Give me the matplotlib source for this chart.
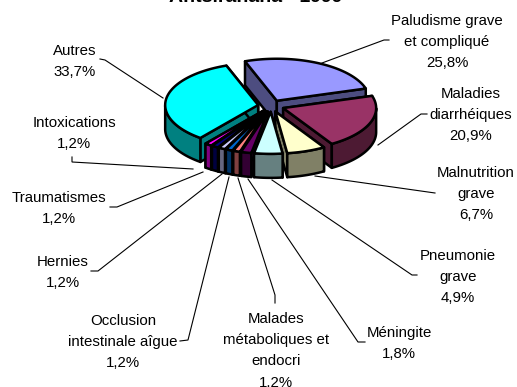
import numpy as np
import matplotlib
matplotlib.use("Agg")
import matplotlib.pyplot as plt
from matplotlib.patches import Polygon

# valeurs, dans le sens horaire
categories = ["Paludisme grave\net compliqué", "Maladies\ndiarrhéiques", "Malnutrition\ngrave",
              "Pneumonie\ngrave", "Méningite", "Malades\nmétaboliques et\nendocri",
              "Occlusion\nintestinale aîgue", "Hernies", "Traumatismes", "Intoxications", "Autres"]
values = [25.8, 20.9, 6.7, 4.9, 1.8, 1.2, 1.2, 1.2, 1.2, 1.2, 33.7]
top_colors = ["#9999FF", "#993366", "#FFFFCC", "#CCFFFF", "#660066", "#FF8080",
              "#0066CC", "#CCCCFF", "#000080", "#FF00FF", "#00FFFF"]
side_colors = ["#4D4D80", "#4D1A33", "#808066", "#668080", "#330033", "#804040",
               "#003366", "#666680", "#000040", "#800080", "#008080"]

# position du texte (centre x, centre y de la 1re ligne) et trait de rappel
label_pos = [(447, 21), (471, 94), (476, 173), (458, 256), (399, 333), (276, 319),
             (123, 321), (63, 262), (59, 198), (74, 123), (75, 51)]
leaders = [
    [(322, 63), (384, 40), (389, 40)],
    [(378, 145), (421, 114), (427, 114)],
    [(315, 176), (435, 193)],
    [(272, 180), (412, 275), (417, 275)],
    [(248, 179), (358, 342), (365, 342)],
    [(238, 178), (275, 295), (275, 303)],
    [(229, 177), (188, 340), (180, 341)],
    [(222, 174), (98, 271), (91, 271)],
    [(203, 172), (117, 207), (110, 207)],
    [(193, 169), (72, 162), (72, 157)],
    [(163, 98), (105, 60), (100, 59)],
]

# géométrie du camembert, en pixels
cx, cy = 271, 106
rx, ry = 93, 42
depth = 24
explode = 13
first_angle = -20
line_height = 21.2

plt.rcParams['font.family'] = ['Liberation Sans', 'DejaVu Sans']

fig = plt.figure(figsize=(5.17, 3.87), dpi=100)
ax = fig.add_axes([0, 0, 1, 1])
ax.set_xlim(0, 517)
ax.set_ylim(387, 0)
ax.axis('off')


def rim(center, angles):
    t = np.radians(angles)
    return np.column_stack([center[0] + rx * np.sin(t), center[1] - ry * np.cos(t)])


def draw_slice(start, stop, top, side):
    mid = np.radians((start + stop) / 2)
    apex = (cx + explode * np.sin(mid), cy - explode * ry / rx * np.cos(mid))
    down = np.array([0, depth])
    angles = np.linspace(start, stop, 80)
    curve = rim(apex, angles)
    style = dict(edgecolor='black', linewidth=1.8, joinstyle='round')

    # parois radiales, la face du dessus recouvre celles qui sont derrière
    for edge in (curve[0], curve[-1]):
        wall = [apex, edge, edge + down, np.array(apex) + down]
        ax.add_patch(Polygon(wall, facecolor=side, **style))

    # paroi extérieure, seulement la partie tournée vers nous
    front = angles[np.cos(np.radians(angles)) < 0]
    if len(front) > 1:
        outer = rim(apex, front)
        ax.add_patch(Polygon(np.vstack([outer, outer[::-1] + down]), facecolor=side, **style))

    ax.add_patch(Polygon(np.vstack([[apex], curve]), facecolor=top, **style))


edges = first_angle + np.concatenate([[0], np.cumsum(values)]) / sum(values) * 360
mids = (edges[:-1] + edges[1:]) / 2

# de l'arrière vers l'avant
for i in np.argsort(-np.cos(np.radians(mids))):
    draw_slice(edges[i], edges[i + 1], top_colors[i], side_colors[i])

for name, value, (x, y), path in zip(categories, values, label_pos, leaders):
    xs, ys = zip(*path)
    ax.plot(xs, ys, color='black', lw=0.8, solid_joinstyle='miter')
    lines = name.split("\n") + [f"{value:.1f}%".replace(".", ",")]
    for n, line in enumerate(lines):
        ax.text(x, y + n * line_height, line, ha='center', va='center', fontsize=10.8, color='black')

# le titre est coupé par le haut de l'image, comme sur l'original
ax.text(256, 2.5, "Antsiranana - 1999", ha='center', va='baseline', fontsize=14, fontweight='bold')

fig.savefig("out.png", dpi=100)
